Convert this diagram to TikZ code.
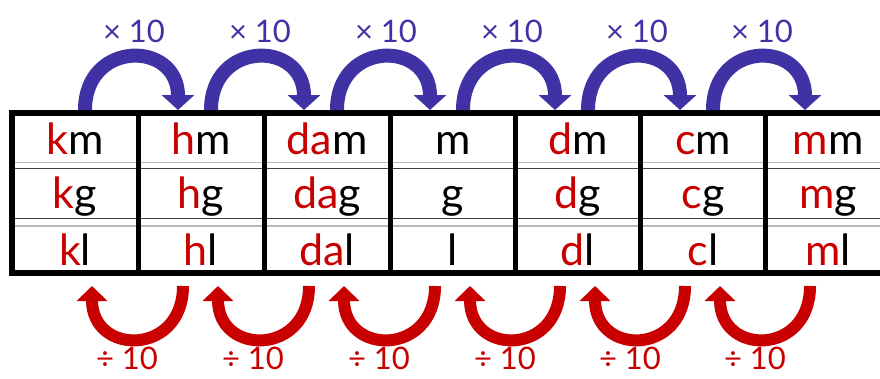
\documentclass[tikz,border=0pt]{standalone}
\usepackage{fontspec}
\setmainfont{Lato}
\usetikzlibrary{arrows.meta, positioning}

\definecolor{unitred}{RGB}{200,0,0}
\definecolor{mulblue}{RGB}{64,50,164}
\definecolor{rulegrey}{RGB}{185,185,185}

\begin{document}
\begin{tikzpicture}[
  x=1pt, y=-1pt,
% 1. Unit cells, set on a common baseline per row
  cell/.style={
    anchor=base,
    inner sep=0pt,
    font=\fontsize{43}{48}\selectfont
  },
% 2. Factor labels above and below the table
  factor/.style={
    anchor=base,
    inner sep=0pt,
    font=\fontsize{31}{36}\selectfont
  },
% 3. Thick blue hops to the right (x 10)
  mularrow/.style={
    draw=mulblue,
    line width=14pt,
    -{Triangle[width=32pt,length=15pt]}
  },
% 4. Thick red hops to the left (/ 10)
  divarrow/.style={
    draw=unitred,
    line width=12pt,
    -{Triangle[width=30pt,length=15pt]}
  }
]
  \useasboundingbox (0,0) rectangle (880,378);
  \clip (0,0) rectangle (880,378);

  % Row rules (grey + dark pairs)
  \draw[rulegrey, line width=1.5pt] (12,162.5) -- (900,162.5) (12,226) -- (900,226);
  \draw[black!75, line width=1pt] (12,168.5) -- (900,168.5) (12,218.5) -- (900,218.5);

  % Column dividers and frame
  \foreach \x in {138,264,390,515,640,765}
    \draw[line width=5pt] (\x,113) -- (\x,273);
  \draw[line width=6pt] (900,113) -- (12,113) -- (12,273) -- (900,273);

  % Unit names, prefix in red
  \foreach \pre/\cx [count=\i] in {k/75, h/201, da/327, /453, d/578, c/703, m/828} {
    \node[cell] (\pre m) at (\cx,154) {\textcolor{unitred}{\pre}m};
    \node[cell] (\pre g) at (\cx,208) {\textcolor{unitred}{\pre}g};
    \node[cell] (\pre l) at (\cx,265) {\textcolor{unitred}{\pre}l};
    % hop ends above and below each column
    \coordinate (to\i) at (\cx+10,110);
    \coordinate (ti\i) at (\cx-23,110);
    \coordinate (bo\i) at (\cx-18,286);
    \coordinate (bi\i) at (\cx+17,286);
  }

  % Hops between neighbouring columns
  \foreach \cx [count=\i, evaluate=\i as \j using int(\i+1)] in {75,201,327,453,578,703} {
    \draw[mularrow] (to\i) .. controls +(0,-70) and +(0,-70) .. (ti\j);
    \draw[divarrow] (bo\j) .. controls +(0,70) and +(0,70) .. (bi\i);
    \node[factor, text=mulblue] (mul\i) at (\cx+59,42) {× 10};
    \node[factor, text=unitred] (div\i) at (\cx+52,369) {÷ 10};
  }
\end{tikzpicture}
\end{document}
